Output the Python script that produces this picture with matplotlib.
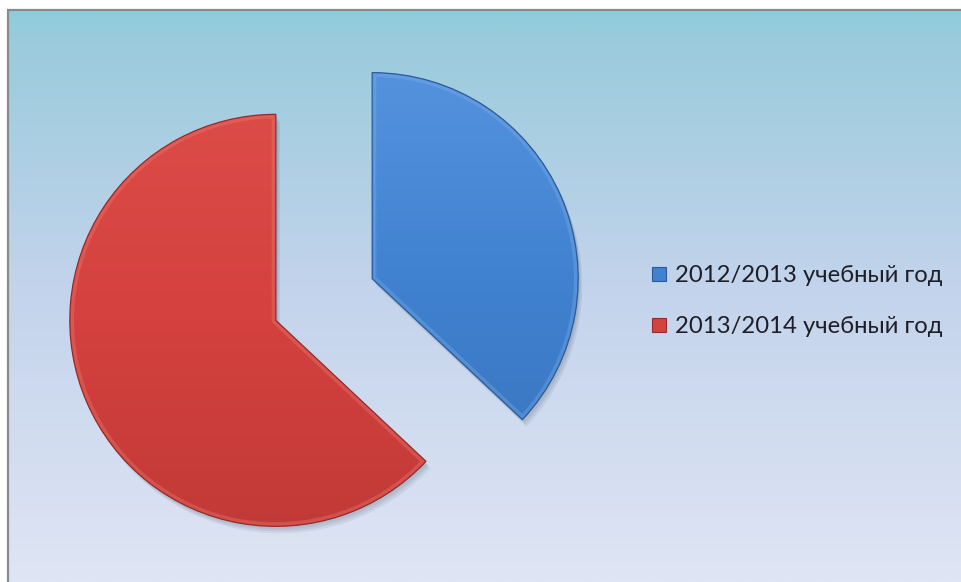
import numpy as np
import matplotlib.pyplot as plt
from matplotlib.colors import LinearSegmentedColormap
from matplotlib.lines import Line2D
from matplotlib.patches import Wedge

labels = ['2012/2013 учебный год', '2013/2014 учебный год']
values = [37, 63]
colors = ['#4082d0', '#d4413e']
edge_colors = ['#2b5a96', '#962a29']
light_colors = ['#5592de', '#dc4c47']
dark_colors = ['#3a74bf', '#c23a37']
bevel_colors = ['#7ab0ec', '#ee7d76']

W, H = 961, 582
fig = plt.figure(figsize=(9.61, 5.82), dpi=100)
fig.patch.set_facecolor('white')
ax = fig.add_axes([0, 0, 1, 1])
ax.set_xlim(0, W)
ax.set_ylim(0, H)

# background gradient of the chart area
bg = LinearSegmentedColormap.from_list('bg', [(0, '#dfe5f4'), (0.5, '#c4d4ec'), (0.95, '#9acbdc'), (1, '#8ecedc')])
grad = np.linspace(0, 1, 256).reshape(-1, 1)
ax.imshow(grad, extent=(8, W, 0, H - 10), origin='lower', cmap=bg, aspect='auto', zorder=0)
ax.plot([8, 8], [0, H - 10], color='#8a8a8a', lw=1.6, zorder=1, solid_capstyle='butt')
ax.plot([7.2, W], [H - 10, H - 10], color='#8a8a8a', lw=1.6, zorder=1, solid_capstyle='butt')

R = 206
wedges, _ = ax.pie(values, colors=colors, startangle=90, counterclock=False,
                   radius=R, center=(324, H - 299.5), explode=[52.5, 52.5],
                   frame=True, wedgeprops=dict(linewidth=0))
for w in wedges:
    w.set_zorder(3)

for i, w in enumerate(wedges):
    c, r, t1, t2 = w.center, w.r, w.theta1, w.theta2
    # soft shadow
    for off in [7, 5, 3]:
        sh = Wedge((c[0] + off * 0.6, c[1] - off), r, t1, t2, facecolor='#1a2a40',
                   edgecolor='none', alpha=0.07, zorder=2)
        ax.add_patch(sh)
    # vertical gradient fill
    cm = LinearSegmentedColormap.from_list('w%d' % i, [dark_colors[i], colors[i], light_colors[i]])
    im = ax.imshow(grad, extent=(c[0] - r, c[0] + r, c[1] - r, c[1] + r), origin='lower',
                   cmap=cm, aspect='auto', zorder=4)
    im.set_clip_path(w)
    # bevel highlight
    bev = Wedge(c, r, t1, t2, facecolor='none', edgecolor=bevel_colors[i], lw=6, alpha=0.35, zorder=5)
    ax.add_patch(bev)
    bev.set_clip_path(w)
    ol = Wedge(c, r, t1, t2, facecolor='none', edgecolor=edge_colors[i], lw=0.9, zorder=6)
    ax.add_patch(ol)

ax.set_xlim(0, W)
ax.set_ylim(0, H)
ax.set_aspect('auto')
ax.axis('off')

handles = [Line2D([], [], linestyle='none', marker='s', markersize=9.5,
                  markerfacecolor=colors[i], markeredgecolor=edge_colors[i], markeredgewidth=0.8)
           for i in range(len(labels))]
leg = ax.legend(handles, labels, loc='upper left', bbox_to_anchor=(652 / W, 1 - 265 / H),
                frameon=False, prop={'family': 'Lato', 'size': 17.2}, handlelength=0.6,
                handletextpad=0.35, labelspacing=1.27, borderaxespad=0, borderpad=0)
for t in leg.get_texts():
    t.set_color('#1e1e28')

fig.savefig('out.png', dpi=100, facecolor='white')
